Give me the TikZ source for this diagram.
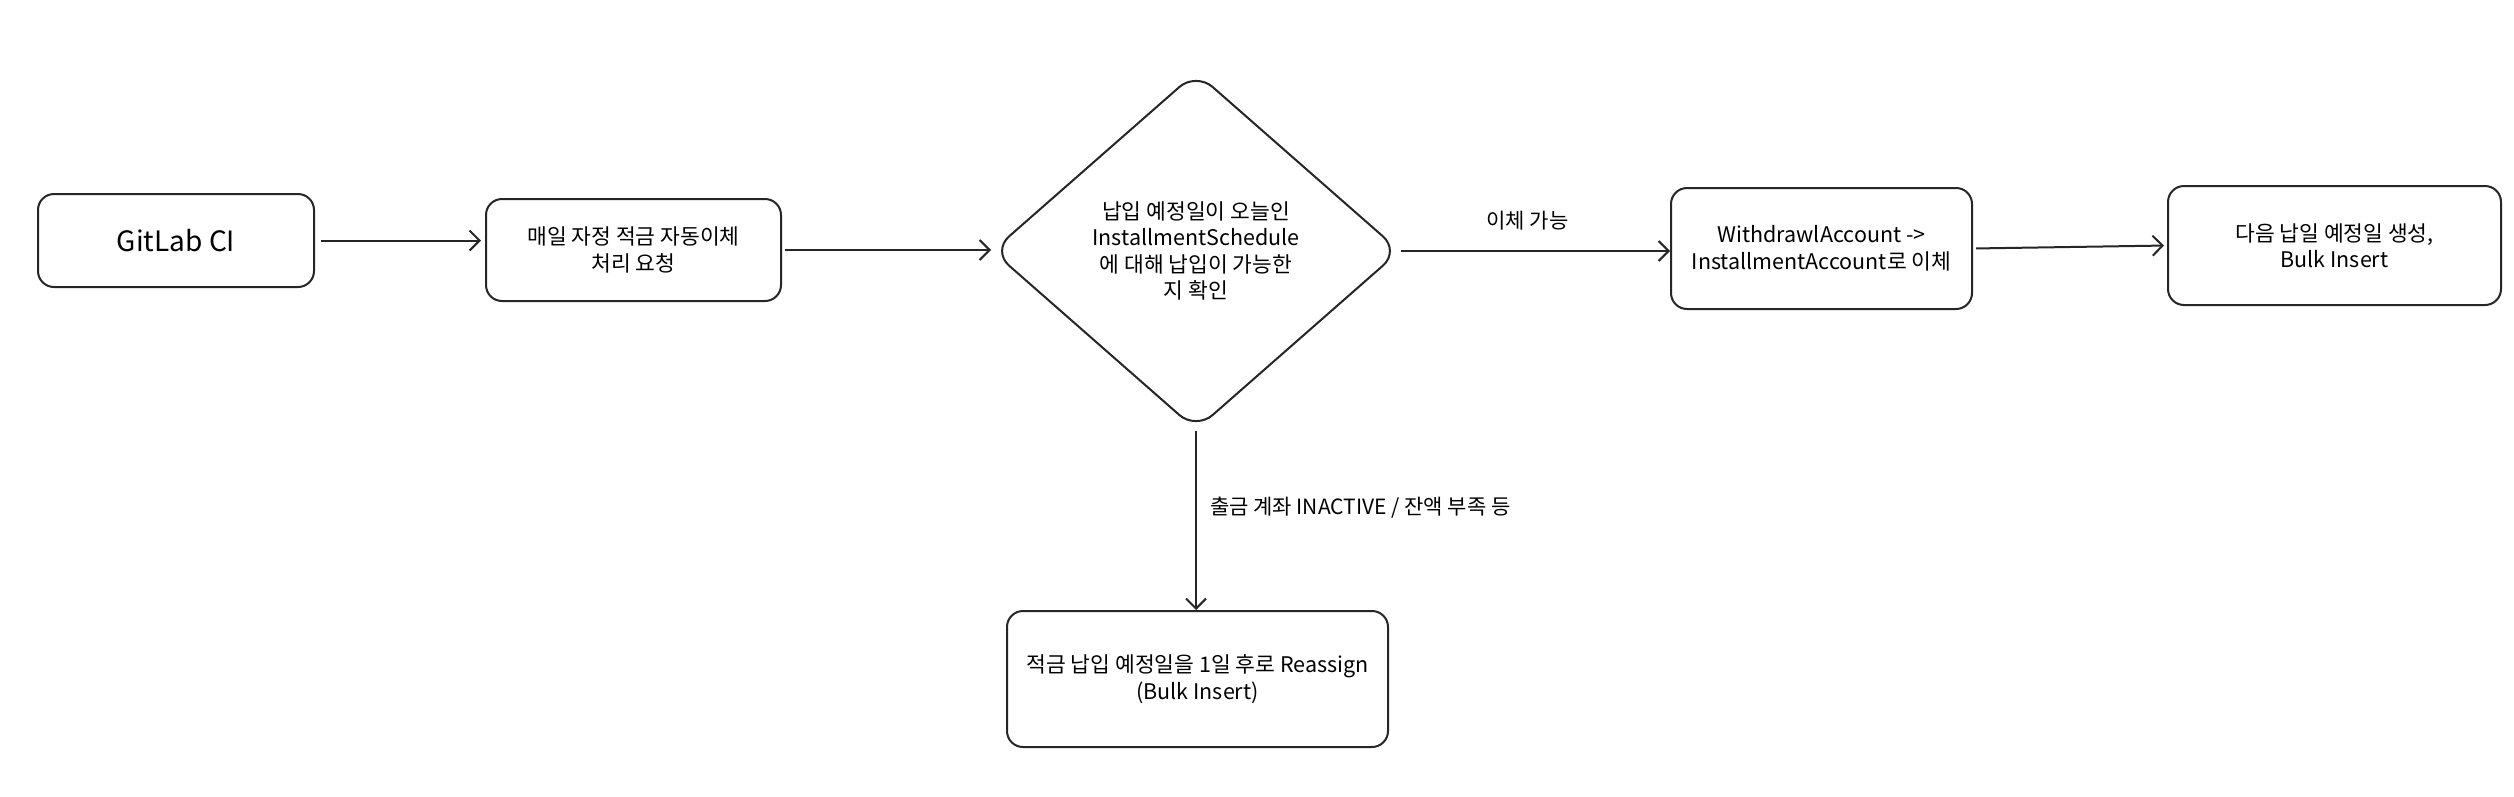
\documentclass[tikz,border=0pt]{standalone}
\usepackage{fontspec}
\setmainfont{Noto Sans CJK KR}
\usetikzlibrary{arrows.meta,shapes.geometric}
\tikzset{
  box/.style={draw=black!85, line width=2pt, fill=white, rounded corners=16pt, align=center,
    font=\fontsize{21.5}{26.5}\selectfont, inner sep=0pt},
  dia/.style={draw=black!85, line width=2pt, fill=white, diamond, rounded corners=22pt,
    align=center, font=\fontsize{21.5}{26.5}\selectfont, inner sep=0pt,
    minimum width=408pt, minimum height=358pt},
  conn/.style={draw=black!85, line width=2pt, -{Straight Barb[length=10pt,width=20pt,line width=2pt]}},
  lbl/.style={font=\fontsize{21}{24}\selectfont, inner sep=0pt}
}
\begin{document}
\begin{tikzpicture}[x=1pt,y=-1pt]
\useasboundingbox[fill=white] (0,0) rectangle (2514,796);
\node[box, minimum width=276pt, minimum height=93pt, font=\fontsize{28}{30}\selectfont] (git) at (176,240.5) {GitLab CI};
\node[box, minimum width=295pt, minimum height=102pt] (req) at (633.5,250) {매일 자정 적금 자동이체\\처리 요청};
\node[dia] (chk) at (1196,251) {납입 예정일이 오늘인\\InstallmentSchedule\\에 대해 납입이 가능한\\지 확인};
\node[box, minimum width=301pt, minimum height=121pt] (wd) at (1821.5,248.5) {WithdrawlAccount -\textgreater\\InstallmentAccount로 이체};
\node[box, minimum width=333pt, minimum height=119pt] (nx) at (2334.5,245.5) {다음 납일 예정일 생성,\\Bulk Insert};
\node[box, minimum width=381pt, minimum height=136pt] (re) at (1197.5,679) {적금 납입 예정일을 1일 후로 Reassign\\(Bulk Insert)};
\draw[conn, shorten <=6pt, shorten >=4pt] (git.east) -- (git.east -| req.west);
\draw[conn, shorten <=3pt] (req.east) -- (req.east -| chk.west);
\draw[conn] (chk.east) -- (chk.east -| wd.west) node[lbl, midway, above=20pt, xshift=-8pt] (l1) {이체 가능};
\draw[conn, shorten <=3pt, shorten >=3pt] (wd.east) -- (nx.west);
\draw[conn] (chk.south) -- (chk.south |- re.north) node[lbl, pos=0.43, anchor=west, xshift=13pt] (l2) {출금 계좌 INACTIVE / 잔액 부족 등};
\end{tikzpicture}
\end{document}
